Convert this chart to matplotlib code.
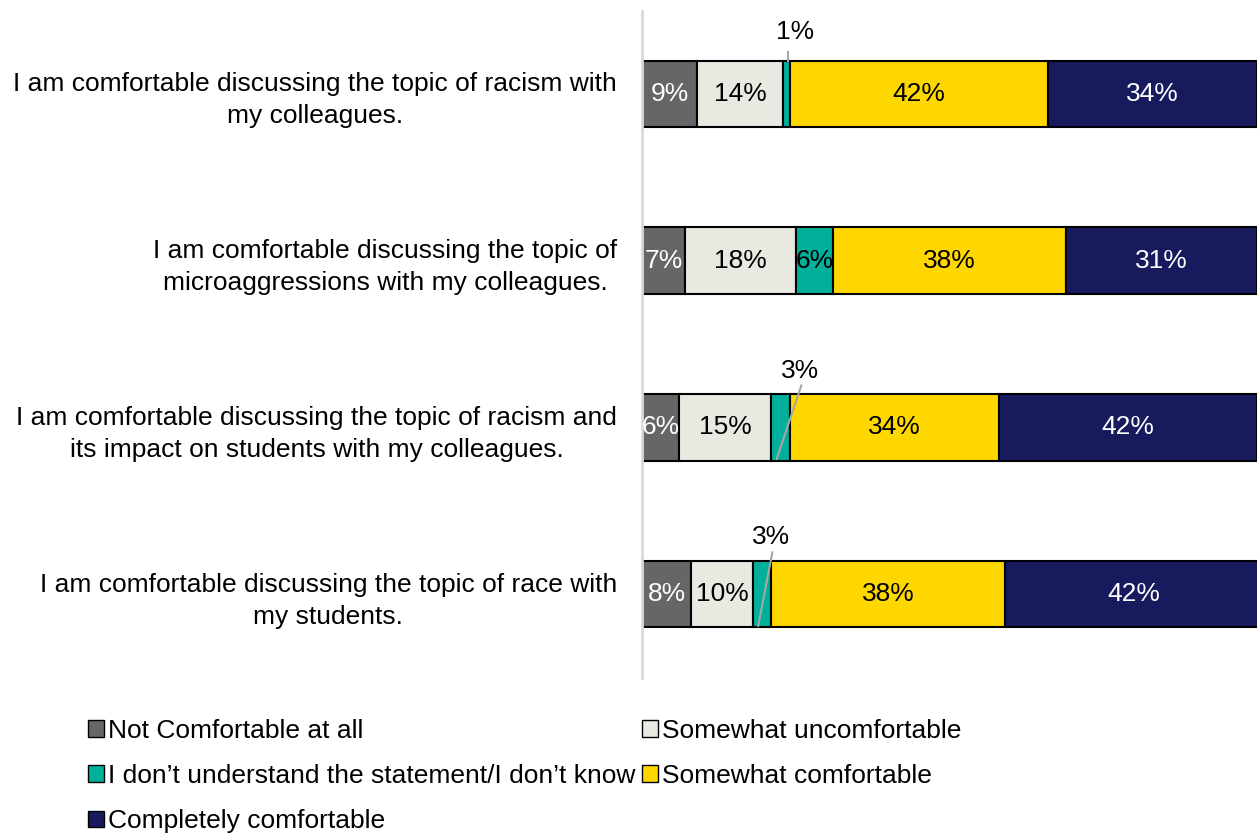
import matplotlib
matplotlib.use("Agg")
import matplotlib.pyplot as plt
from matplotlib.patches import Patch
import numpy as np

plt.rcParams['font.family'] = ['Liberation Sans', 'DejaVu Sans']

statements = [
    "I am comfortable discussing the topic of racism with\nmy colleagues.",
    "I am comfortable discussing the topic of\nmicroaggressions with my colleagues.",
    "I am comfortable discussing the topic of racism and\nits impact on students with my colleagues.",
    "I am comfortable discussing the topic of race with\nmy students.",
]
series_names = [
    "Not Comfortable at all",
    "Somewhat uncomfortable",
    "I don\u2019t understand the statement/I don\u2019t know",
    "Somewhat comfortable",
    "Completely comfortable",
]
not_comfortable = [9, 7, 6, 8]
somewhat_uncomfortable = [14, 18, 15, 10]
dont_know = [1, 6, 3, 3]
somewhat_comfortable = [42, 38, 34, 38]
completely_comfortable = [34, 31, 42, 42]

colors = ["#666666", "#E9E9E1", "#00B09B", "#FFD700", "#171B5E"]
text_colors = ["white", "black", "black", "black", "white"]

series = [not_comfortable, somewhat_uncomfortable, dont_know,
          somewhat_comfortable, completely_comfortable]

fig = plt.figure(figsize=(12.57, 8.34), dpi=100)
ax = fig.add_axes([642 / 1257, 1 - 677.5 / 834, 1 - 642 / 1257, (677.5 - 10.5) / 834])

ypos = np.arange(len(statements))
left = np.zeros(len(statements))
bar_h = 0.4
fs = 19

for k, vals in enumerate(series):
    vals = np.array(vals, dtype=float)
    ax.barh(ypos, vals, left=left, height=bar_h, color=colors[k],
            edgecolor="black", linewidth=1.5, label=series_names[k])
    for i, v in enumerate(vals):
        cx = left[i] + v / 2
        if v < 4:
            continue
        ax.text(cx, ypos[i], f"{int(v)}%", ha="center", va="center",
                fontsize=fs, color=text_colors[k])
    left += vals

# small segments: labels placed above with leader lines
starts = np.array(not_comfortable) + np.array(somewhat_uncomfortable)
label_pos = {0: (24.9, -0.37), 2: (25.7, 1.659), 3: (21.0, 2.659)}
for i, (lx, ly) in label_pos.items():
    v = dont_know[i]
    seg_c = starts[i] + v / 2
    ax.text(lx, ly, f"{v}%", ha="center", va="center", fontsize=fs, color="black")
    if i == 0:
        ax.plot([seg_c + 0.2, seg_c + 0.2], [ly + 0.12, ypos[i] - bar_h / 2],
                color="#A6A6A6", linewidth=1.5, zorder=3)
    else:
        ax.plot([lx + 0.2, seg_c - 0.6], [ly + 0.09, ypos[i] + bar_h / 2 - 0.01],
                color="#A6A6A6", linewidth=1.5, zorder=3)

ax.set_xlim(0, 100)
ax.set_ylim(3.5, -0.5)
ax.set_yticks(ypos)
ax.set_yticklabels(statements, fontsize=fs, multialignment="center",
                   linespacing=1.42)
ax.tick_params(axis="y", length=0, pad=18)
ax.set_xticks([])
for s in ["top", "right", "bottom"]:
    ax.spines[s].set_visible(False)
ax.spines["left"].set_color("#D9D9D9")
ax.spines["left"].set_linewidth(2)

handles = [Patch(facecolor=colors[k], edgecolor="black", linewidth=1.0)
           for k in range(5)]
order = [0, 2, 4, 1, 3]
fig.legend([handles[k] for k in order], [series_names[k] for k in order],
           loc="upper left", bbox_to_anchor=(88 / 1257, 1 - 719 / 834),
           ncol=2, frameon=False, fontsize=fs, handlelength=0.6,
           handleheight=0.6, handletextpad=0.15, columnspacing=0.25,
           labelspacing=0.8, borderaxespad=0, borderpad=0)

fig.savefig("out.png", dpi=100)
